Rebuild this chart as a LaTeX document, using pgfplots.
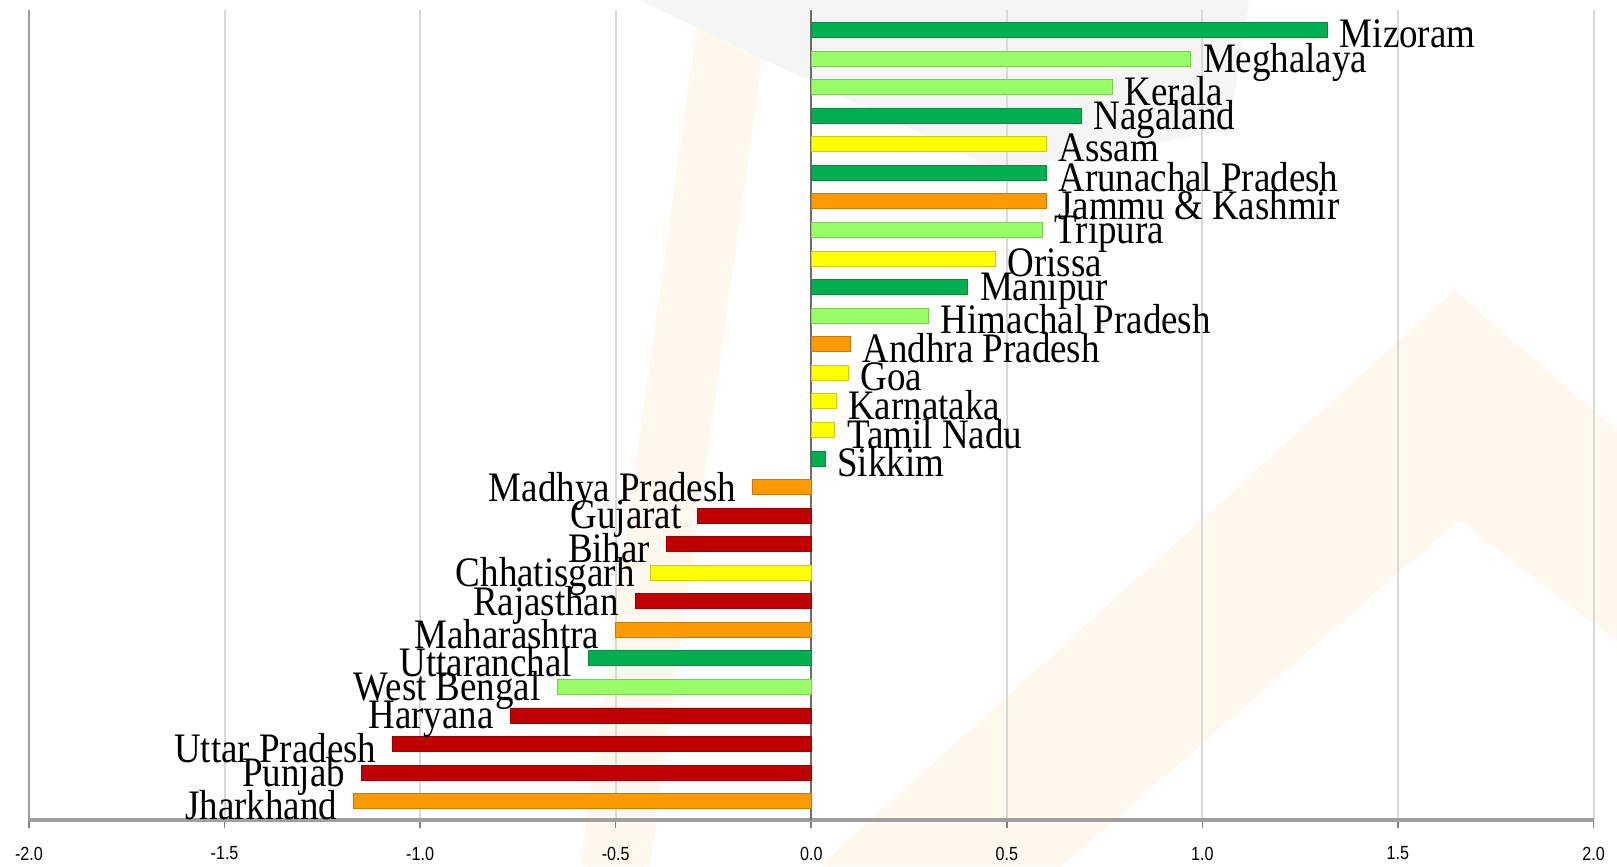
\documentclass[border=0pt]{standalone}
\usepackage{fontspec}
\setmainfont{Liberation Serif}[FakeStretch=0.88]
\newfontfamily\tickfont{Liberation Sans}[FakeStretch=0.85]
\usepackage{pgfplots}
\pgfplotsset{compat=1.18}
\definecolor{dgreen}{RGB}{0,176,80}
\definecolor{lgreen}{RGB}{153,255,102}
\definecolor{yel}{RGB}{255,255,0}
\definecolor{orn}{RGB}{255,153,0}
\definecolor{dred}{RGB}{192,0,0}
\definecolor{peach}{RGB}{255,248,238}
\definecolor{wmgray}{RGB}{245,245,245}
\begin{document}
\begin{tikzpicture}
% background watermark (drawn first, behind the chart)
\begin{axis}[
  scale only axis, width=782.5pt, height=405pt,
  xmin=0, xmax=1, ymin=0, ymax=1, hide axis, clip=false,
]
\fill[peach] (axis cs:0.505,-0.058) -- (axis cs:0.911,0.654) -- (axis cs:1.015,0.481) -- (axis cs:1.015,0.220) -- (axis cs:0.914,0.370) -- (axis cs:0.660,-0.058) -- cycle;
\fill[peach] (axis cs:0.429,1.012) -- (axis cs:0.474,1.012) -- (axis cs:0.397,-0.058) -- (axis cs:0.352,-0.058) -- cycle;
\fill[wmgray] (axis cs:0.390,1.012) -- (axis cs:0.780,1.012) -- (axis cs:0.767,0.852) -- (axis cs:0.620,0.802) -- cycle;
\end{axis}
\begin{axis}[
  scale only axis, width=782.5pt, height=405pt,
  xmin=-2, xmax=2, ymin=0.35, ymax=28.7,
  xbar, bar width=7.5pt, bar shift=0pt,
  axis lines*=left,
  x axis line style={-, draw=gray!75, line width=2pt},
  y axis line style={-, draw=gray!75, line width=1.2pt},
  ytick=\empty,
  xtick={-2,-1.5,...,2},
  xticklabel style={font=\tickfont\fontsize{9.5}{10}\selectfont, yshift=-6pt},
  /pgf/number format/.cd, fixed, fixed zerofill, precision=1, assume math mode=true,
  /pgfplots/.cd,
  xmajorgrids, grid style={draw=gray!30, line width=1pt},
  tick style={draw=gray, line width=0.8pt},
  xtick align=outside, major tick length=4pt,
  clip=false,
  nodes near coords, point meta=explicit symbolic,
  every node near coord/.append style={font=\fontsize{21}{21}\selectfont, inner sep=0pt, yshift=-2pt, text=black},
]
\draw[gray!85!black, line width=1.2pt] (axis cs:0,0.35) -- (axis cs:0,28.7);
\path ([shift={(-14.5pt,-23.5pt)}]rel axis cs:0,0) rectangle ([shift={(11.5pt,5pt)}]rel axis cs:1,1);
% dark green
\addplot[fill=dgreen, draw=dgreen!80!black, nodes near coords style={anchor=west, xshift=6pt}] coordinates {
 (1.32,28) [Mizoram] (0.69,25) [Nagaland] (0.60,23) [Arunachal Pradesh] (0.40,19) [Manipur] (0.035,13) [Sikkim]};
\addplot[fill=dgreen, draw=dgreen!80!black, nodes near coords style={anchor=east, xshift=-8pt}] coordinates {
 (-0.57,6) [Uttaranchal]};
% light green
\addplot[fill=lgreen, draw=lgreen!80!black, nodes near coords style={anchor=west, xshift=6pt}] coordinates {
 (0.97,27) [Meghalaya] (0.77,26) [Kerala] (0.59,21) [Tripura] (0.30,18) [Himachal Pradesh]};
\addplot[fill=lgreen, draw=lgreen!80!black, nodes near coords style={anchor=east, xshift=-8pt}] coordinates {
 (-0.65,5) [West Bengal]};
% yellow
\addplot[fill=yel, draw=yel!80!black, nodes near coords style={anchor=west, xshift=6pt}] coordinates {
 (0.60,24) [Assam] (0.47,20) [Orissa] (0.095,16) [Goa] (0.063,15) [Karnataka] (0.06,14) [Tamil Nadu]};
\addplot[fill=yel, draw=yel!80!black, nodes near coords style={anchor=east, xshift=-8pt}] coordinates {
 (-0.41,9) [Chhatisgarh]};
% orange
\addplot[fill=orn, draw=orn!80!black, nodes near coords style={anchor=west, xshift=6pt}] coordinates {
 (0.60,22) [Jammu \& Kashmir] (0.10,17) [Andhra Pradesh]};
\addplot[fill=orn, draw=orn!80!black, nodes near coords style={anchor=east, xshift=-8pt}] coordinates {
 (-0.15,12) [Madhya Pradesh] (-0.50,7) [Maharashtra] (-1.17,1) [Jharkhand]};
% red
\addplot[fill=dred, draw=dred!80!black, nodes near coords style={anchor=east, xshift=-8pt}] coordinates {
 (-0.29,11) [Gujarat] (-0.37,10) [Bihar] (-0.45,8) [Rajasthan] (-0.77,4) [Haryana] (-1.07,3) [Uttar Pradesh] (-1.15,2) [Punjab]};
\end{axis}
\end{tikzpicture}
\end{document}
